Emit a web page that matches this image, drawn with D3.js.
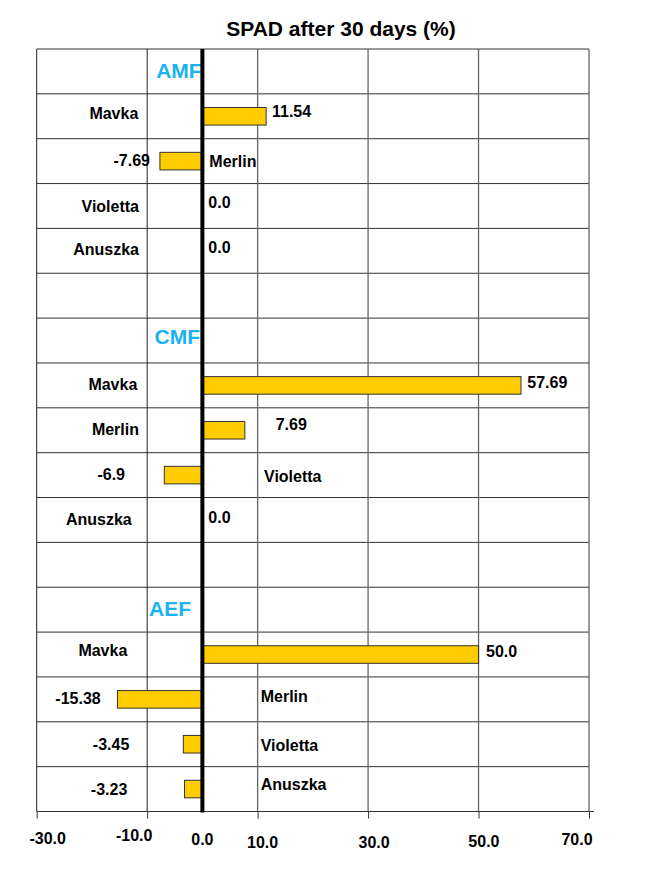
<!DOCTYPE html>
<html><head><meta charset="utf-8">
<script src="https://cdn.jsdelivr.net/npm/d3@7"></script>
<style>
body{margin:0;background:#fff}
svg{display:block}
text{font-family:"Liberation Sans",Arial,sans-serif;font-weight:bold}
</style>
</head><body><svg id="c" width="648" height="886"></svg>
<script>
// ---------- data ----------
const title = "SPAD after 30 days (%)";
const groups = ["AMF", "CMF", "AEF"];
const varieties = ["Mavka", "Merlin", "Violetta", "Anuszka"];
const amfValues = [11.54, -7.69, 0.0, 0.0];
const cmfValues = [57.69, 7.69, -6.9, 0.0];
const aefValues = [50.0, -15.38, -3.45, -3.23];
const gridValues = [-30, -10, 10, 30, 50, 70];
const tickValues = [-30, -10, 0, 10, 30, 50, 70];
const tickLabels = ["-30.0", "-10.0", "0.0", "10.0", "30.0", "50.0", "70.0"];

// ---------- layout (pixels, separate from data) ----------
const tickNudge = [[11, 32.3], [-13, 29], [0, 33.3], [5, 36.3], [6, 36.3], [5.4, 35.7], [-12, 33.3]];
const labelLayout = [ // leftEnd, leftDy, rightStart, rightDy
  [138.3, 25.4, 272, 23.5],
  [150, 27, 209.3, 28],
  [139, 28, 208.3, 24.7],
  [139, 27, 208.3, 24.2],
  [137.3, 27.5, 527.3, 25.1],
  [139, 27, 275.7, 22],
  [125, 27.8, 264, 29],
  [131.7, 27.2, 208.3, 25.2],
  [127.3, 24.3, 486, 24.6],
  [100.7, 26.7, 260.7, 25.4],
  [129.3, 28.5, 260.7, 29.5],
  [127.3, 27.9, 260.7, 22.9]
];
const headerLayout = [[201.7, 29.3], [200, 26], [191, 28.5]];

const groupValues = [amfValues, cmfValues, aefValues];
const rows = [];
groups.forEach((g, gi) => {
  rows.push({type: "header", group: g, gi});
  varieties.forEach((v, vi) => rows.push({type: "item", group: g, variety: v, value: groupValues[gi][vi]}));
  if (gi < groups.length - 1) rows.push({type: "blank"});
});
let k = 0;
rows.forEach(r => { if (r.type === "item") r.k = k++; });

const fmt = v => (Math.round(v * 10) / 10 === v ? v.toFixed(1) : v.toFixed(2));

const svg = d3.select("#c");
const x = d3.scaleLinear().domain([-30, 70]).range([36.7, 589]);
const plotTop = 49, plotBottom = 811.5;
const y = d3.scaleBand().domain(d3.range(rows.length)).range([plotTop, plotBottom]);
const bw = y.bandwidth();
const bh = bw * 0.392;

// title
svg.append("text").attr("x", 341).attr("y", 36).attr("text-anchor", "middle")
  .attr("font-size", 21).attr("fill", "#000").text(title);

// horizontal row lines
const hl = d3.range(rows.length).map(i => y(i));
svg.append("g").selectAll("line").data(hl).join("line")
  .attr("x1", x(-30)).attr("x2", x(70)).attr("y1", d => d).attr("y2", d => d)
  .attr("stroke", "#333").attr("stroke-width", 1);

// vertical grid lines
svg.append("g").selectAll("line").data(gridValues).join("line")
  .attr("x1", d => x(d)).attr("x2", d => x(d)).attr("y1", plotTop).attr("y2", plotBottom)
  .attr("stroke", (d, i) => i < 2 ? "#222" : "#666").attr("stroke-width", (d, i) => i < 2 ? 1 : 1.3);

// axis
const axisG = svg.append("g").attr("transform", `translate(0,${plotBottom})`)
  .call(d3.axisBottom(x).tickValues(gridValues).tickSize(7).tickFormat(""));
axisG.select(".domain").remove();
axisG.selectAll(".tick line").attr("stroke", "#333");
svg.append("line").attr("x1", x(-30)).attr("x2", x(70) + 5).attr("y1", plotBottom).attr("y2", plotBottom)
  .attr("stroke", "#333").attr("stroke-width", 1);

svg.append("g").selectAll("text").data(tickValues).join("text")
  .attr("x", (d, i) => x(d) + tickNudge[i][0])
  .attr("y", (d, i) => plotBottom + tickNudge[i][1])
  .attr("text-anchor", "middle").attr("font-size", 16).attr("fill", "#000")
  .text((d, i) => tickLabels[i]);

// headers
const headers = rows.map((r, i) => ({...r, i})).filter(r => r.type === "header");
svg.append("g").selectAll("text").data(headers).join("text")
  .attr("x", d => headerLayout[d.gi][0])
  .attr("y", d => y(d.i) + headerLayout[d.gi][1])
  .attr("text-anchor", "end").attr("font-size", 21).attr("fill", "#1AB2F0")
  .text(d => d.group);

// bars
const items = rows.map((r, i) => ({...r, i})).filter(r => r.type === "item");
svg.append("g").selectAll("rect").data(items.filter(d => d.value !== 0)).join("rect")
  .attr("x", d => x(Math.min(0, d.value)))
  .attr("width", d => Math.abs(x(d.value) - x(0)))
  .attr("y", d => y(d.i) + (bw - bh) / 2)
  .attr("height", bh)
  .attr("fill", "#FFCC00").attr("stroke", "#333").attr("stroke-width", 1);

// labels
const lab = svg.append("g").attr("font-size", 16).attr("fill", "#000");
lab.selectAll("text.l").data(items).join("text").attr("class", "l")
  .attr("x", d => labelLayout[d.k][0])
  .attr("y", d => y(d.i) + labelLayout[d.k][1])
  .attr("text-anchor", "end")
  .text(d => d.value < 0 ? fmt(d.value) : d.variety);
lab.selectAll("text.r").data(items).join("text").attr("class", "r")
  .attr("x", d => labelLayout[d.k][2])
  .attr("y", d => y(d.i) + labelLayout[d.k][3])
  .attr("text-anchor", "start")
  .text(d => d.value < 0 ? d.variety : fmt(d.value));

// zero line
svg.append("line").attr("x1", x(0)).attr("x2", x(0)).attr("y1", plotTop).attr("y2", plotBottom + 1)
  .attr("stroke", "#000").attr("stroke-width", 4);
</script>
</body></html>
